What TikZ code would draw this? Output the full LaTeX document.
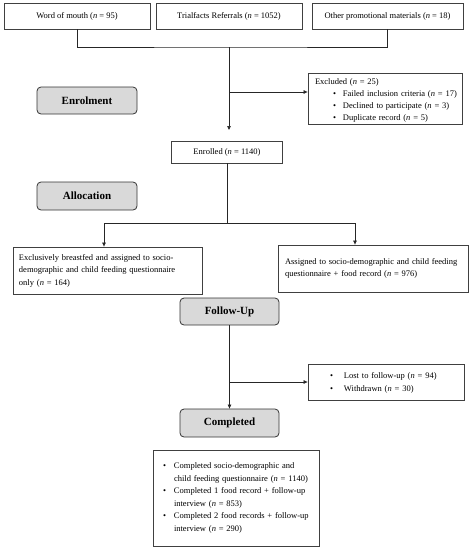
\documentclass[tikz,border=0pt]{standalone}
\usepackage{fontspec}
\setmainfont{Liberation Serif}
\usetikzlibrary{arrows.meta,calc}
\begin{document}
\begin{tikzpicture}[x=1pt,y=-1pt,
  txt/.style={font=\fontsize{8.5}{12.5}\selectfont},
  plainbox/.style={txt,draw=black!75,line width=0.8pt,inner sep=0pt,inner xsep=6pt,align=left},
  topbox/.style={txt,draw=black!75,line width=0.8pt,minimum height=26pt,inner sep=0pt},
  stagebox/.style={draw=black!80,line width=0.8pt,fill=black!15,rounded corners=4pt,
     font=\fontsize{11}{12}\selectfont\bfseries,minimum width=100pt,minimum height=27pt,inner sep=0pt},
  conn/.style={draw=black!85,line width=0.7pt},
  arr/.style={conn,-{Triangle[length=4pt,width=3.5pt]}}
]
\useasboundingbox (0,0) rectangle (474,550);
% top boxes
\node[topbox,minimum width=146pt] (w1) at (77,16) {Word of mouth (\textit{n}~=~95)};
\node[topbox,minimum width=146pt] (w2) at (229,16) {Trialfacts Referrals (\textit{n}~=~1052)};
\node[topbox,minimum width=151pt] (w3) at (387.5,16) {Other promotional materials (\textit{n}~=~18)};
\coordinate (br) at (229,47);
\draw[conn] (w1.south) |- (br) -| (w3.south);
% excluded
\node[plainbox,font=\fontsize{8.5}{12}\selectfont,minimum width=154pt,minimum height=51pt,text width=140pt,inner xsep=7pt] (excl) at (385,98.5)
 {\mbox{\rule{0pt}{10pt}Excluded (\textit{n}~=~25)}\\
  \mbox{\hspace*{18pt}\makebox[10pt][l]{\textbullet}Failed inclusion criteria (\textit{n}~=~17)}\\
  \mbox{\hspace*{18pt}\makebox[10pt][l]{\textbullet}Declined to participate (\textit{n}~=~3)}\\
  \mbox{\hspace*{18pt}\makebox[10pt][l]{\textbullet}Duplicate record (\textit{n}~=~5)}};
\coordinate (a1) at (229,130);
\coordinate (b1) at (229,92);
\draw[arr] (br) -- (a1);
\draw[arr] (b1) -- (excl.west |- b1);
% stage labels
\node[stagebox] (enrol) at (87,100.5) {Enrolment};
\node[stagebox,minimum height=28pt] (alloc) at (87,196) {Allocation};
% enrolled
\node[topbox,minimum width=111pt,minimum height=22pt] (enrolled) at (227,152) {Enrolled (\textit{n}~=~1140)};
\coordinate (s) at (227,223);
\coordinate (sl) at (104,223);
\coordinate (sr) at (355,223);
\draw[conn] (enrolled.south) -- (s);
\draw[conn] (sl) -- (sr);
\node[plainbox,minimum width=189pt,minimum height=47pt,text width=177pt] (lbox) at (107.5,270.5)
 {\mbox{Exclusively breastfed and assigned to socio-}\\\mbox{demographic and child feeding questionnaire}\\only (\textit{n}~=~164)};
\node[plainbox,minimum width=190pt,minimum height=47pt,text width=176pt,inner xsep=7pt] (rbox) at (373,268.5)
 {\mbox{Assigned to socio-demographic and child feeding}\\\mbox{questionnaire + food record (\textit{n}~=~976)}};
\draw[arr] (sl) -- (sl |- lbox.north);
\draw[arr] (sr) -- (sr |- rbox.north);
% follow-up
\node[stagebox,minimum width=99pt] (follow) at (229.5,311.5) {Follow-Up};
\node[stagebox,minimum width=99pt,minimum height=28pt] (compl) at (229.5,423) {Completed};
\node[plainbox,minimum width=156pt,minimum height=36pt,text width=112pt,inner xsep=22pt] (lost) at (386,382)
 {\mbox{\rule{0pt}{8pt}\makebox[14pt][l]{\textbullet}Lost to follow-up (\textit{n}~=~94)}\\
  \mbox{\makebox[14pt][l]{\textbullet}Withdrawn (\textit{n}~=~30)}};
\coordinate (b2) at (229.5,382);
\draw[arr] (follow.south) -- (compl.north);
\draw[arr] (b2) -- (lost.west);
% final
\node[plainbox,minimum width=166pt,minimum height=96pt,text width=146pt,inner xsep=10pt] (final) at (236,498)
 {\mbox{\makebox[11pt][l]{\textbullet}Completed socio-demographic and}\\
  \mbox{\hspace*{11pt}child feeding questionnaire (\textit{n}~=~1140)}\\
  \mbox{\makebox[11pt][l]{\textbullet}Completed 1 food record + follow-up}\\
  \mbox{\hspace*{11pt}interview (\textit{n}~=~853)}\\
  \mbox{\makebox[11pt][l]{\textbullet}Completed 2 food records + follow-up}\\
  \mbox{\hspace*{11pt}interview (\textit{n}~=~290)}};
\end{tikzpicture}
\end{document}
